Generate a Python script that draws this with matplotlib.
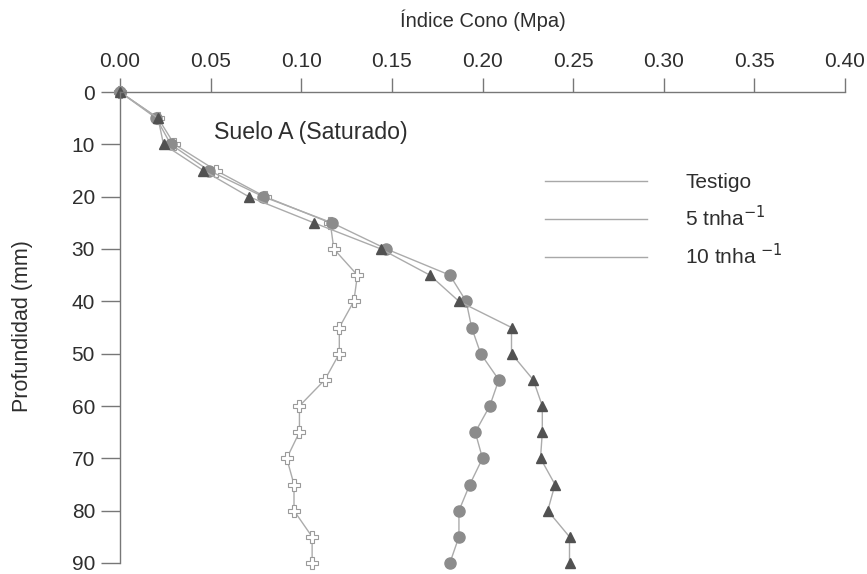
import matplotlib
matplotlib.use("Agg")
import matplotlib.pyplot as plt
from matplotlib.lines import Line2D

plt.rcParams['font.family'] = ['Liberation Sans', 'DejaVu Sans']

# Profundidad de muestreo (mm)
profundidad = [0, 5, 10, 15, 20, 25, 30, 35, 40, 45, 50, 55, 60, 65, 70, 75, 80, 85, 90]

# Índice de cono (MPa) por tratamiento
testigo = [0.000, 0.020, 0.028, 0.049, 0.079, 0.117, 0.147, 0.182, 0.191, 0.194,
           0.199, 0.209, 0.204, 0.196, 0.200, 0.193, 0.187, 0.187, 0.182]
t5 = [0.000, 0.021, 0.030, 0.053, 0.080, 0.116, 0.118, 0.131, 0.129, 0.121,
      0.121, 0.113, 0.099, 0.099, 0.092, 0.096, 0.096, 0.106, 0.106]
t10 = [0.000, 0.021, 0.024, 0.046, 0.071, 0.107, 0.144, 0.171, 0.187, 0.216,
       0.216, 0.228, 0.233, 0.233, 0.232, 0.240, 0.236, 0.248, 0.248]

x_ticks = [0.00, 0.05, 0.10, 0.15, 0.20, 0.25, 0.30, 0.35, 0.40]
y_ticks = [0, 10, 20, 30, 40, 50, 60, 70, 80, 90]
etiquetas = ["Testigo", "5 tnha$^{-1}$", "10 tnha $^{-1}$"]

TXT = "#2e2e2e"
EJE = "#777777"

fig = plt.figure(figsize=(8.67, 5.74), dpi=100)
ax = fig.add_axes([120 / 867, 1 - 563 / 574, 725 / 867, 471 / 574])

linea = dict(color="#ababab", lw=1.0, zorder=2, clip_on=False)
ax.plot(t5, profundidad, marker="P", ms=8, mfc="white", mec="#9a9a9a", mew=0.8, **linea)
ax.plot(testigo, profundidad, marker="o", ms=8, mfc="#8c8c8c", mec="#8c8c8c", **linea)
ax.plot(t10, profundidad, marker="^", ms=7.5, mfc="#515151", mec="#515151", **linea)

ax.set_xlim(0, 0.40)
ax.set_ylim(90, 0)
ax.xaxis.tick_top()
ax.xaxis.set_label_position("top")
ax.set_xticks(x_ticks)
ax.set_xticklabels([f"{v:.2f}" for v in x_ticks])
ax.set_yticks(y_ticks)

for s in ["right", "bottom"]:
    ax.spines[s].set_visible(False)
for s in ["top", "left"]:
    ax.spines[s].set_color(EJE)
    ax.spines[s].set_linewidth(1.0)

ax.tick_params(axis="x", direction="out", length=10, width=1, color=EJE,
               labelsize=15, pad=5, labelcolor=TXT)
ax.tick_params(axis="y", direction="out", length=14, width=1, color=EJE,
               labelsize=15, pad=4, labelcolor=TXT)

ax.set_xlabel("Índice Cono (Mpa)", fontsize=14.5, color=TXT)
ax.xaxis.set_label_coords(0.5, 1 + (92 - 20) / 471)
ax.xaxis.label.set_va("center")
ax.set_ylabel("Profundidad (mm)", fontsize=15.5, color=TXT)
ax.yaxis.set_label_coords((22 - 120) / 725, 1 - (326 - 92) / 471)
ax.yaxis.label.set_va("center")

ax.text(0.052, 7.8, "Suelo A (Saturado)", fontsize=16.7, color=TXT, va="center")

handles = [Line2D([], [], color="#a8a8a8", lw=1.0) for _ in etiquetas]
ax.legend(handles, etiquetas, loc="upper left", bbox_to_anchor=(0.560, 0.867),
          frameon=False, fontsize=15, handlelength=4.9, handletextpad=1.85,
          labelspacing=0.62, labelcolor=TXT)

fig.savefig("out.png", dpi=100, facecolor="white")
